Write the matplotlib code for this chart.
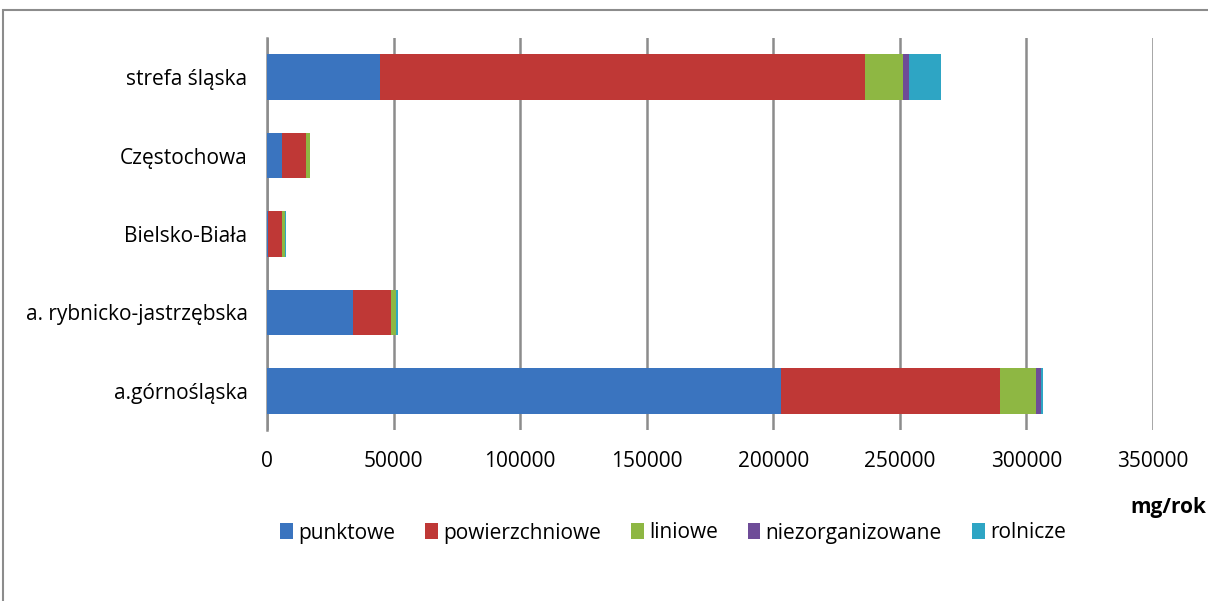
import matplotlib.pyplot as plt
from matplotlib.patches import Rectangle
import numpy as np

plt.rcParams['font.family'] = ['Open Sans', 'DejaVu Sans']

categories = ["a.górnośląska", "a. rybnicko-jastrzębska", "Bielsko-Biała", "Częstochowa", "strefa śląska"]
punktowe = [202900, 34000, 300, 6000, 44500]
powierzchniowe = [86700, 15000, 5700, 9500, 191600]
liniowe = [14200, 1800, 1200, 1400, 15300]
niezorganizowane = [1850, 200, 100, 100, 2100]
rolnicze = [800, 700, 300, 0, 12900]

series_names = ["punktowe", "powierzchniowe", "liniowe", "niezorganizowane", "rolnicze"]
series = [punktowe, powierzchniowe, liniowe, niezorganizowane, rolnicze]
colors = ["#3A74BF", "#BF3836", "#8EB743", "#6E4C98", "#2EA5C4"]
xticks = [0, 50000, 100000, 150000, 200000, 250000, 300000, 350000]

fig = plt.figure(figsize=(12.08, 6.01), dpi=100)
ax = fig.add_axes([267/1208, 1 - 430/601, (1153 - 267)/1208, (430 - 38)/601])

y = np.arange(len(categories))
left = np.zeros(len(categories))
for name, vals, c in zip(series_names, series, colors):
    ax.barh(y, vals, left=left, height=0.58, color=c, label=name, zorder=3)
    left += np.array(vals)

ax.set_xlim(0, 350000)
ax.set_ylim(-0.5, len(categories) - 0.5)
ax.set_xticks(xticks)
ax.set_xticklabels([str(t) for t in xticks], fontsize=15)
ax.set_yticks(y)
ax.set_yticklabels(categories, fontsize=15)
ax.tick_params(axis='x', length=0, pad=15)
ax.tick_params(axis='y', length=0, pad=14)
ax.grid(axis='x', color='#8c8c8c', linewidth=1.8, zorder=0)
for s in ['top', 'right', 'bottom']:
    ax.spines[s].set_visible(False)
ax.spines['left'].set_color('#8c8c8c')
ax.spines['left'].set_linewidth(1.8)

fig.text(1206/1208, 1 - 508/601, "mg/rok", fontsize=15, fontweight='bold', ha='right', va='center')

leg = fig.legend(loc='center', bbox_to_anchor=(673/1208, 1 - 533/601), ncol=5, frameon=False,
                 fontsize=15, handlelength=0.6, handleheight=0.8, handletextpad=0.25, columnspacing=1.45)

fig.patches.append(Rectangle((3/1208, -0.5), 2, 0.5 + 1 - 10/601, transform=fig.transFigure,
                             fill=False, edgecolor='#8c8c8c', linewidth=1.5))

fig.savefig("out.png", dpi=100)
